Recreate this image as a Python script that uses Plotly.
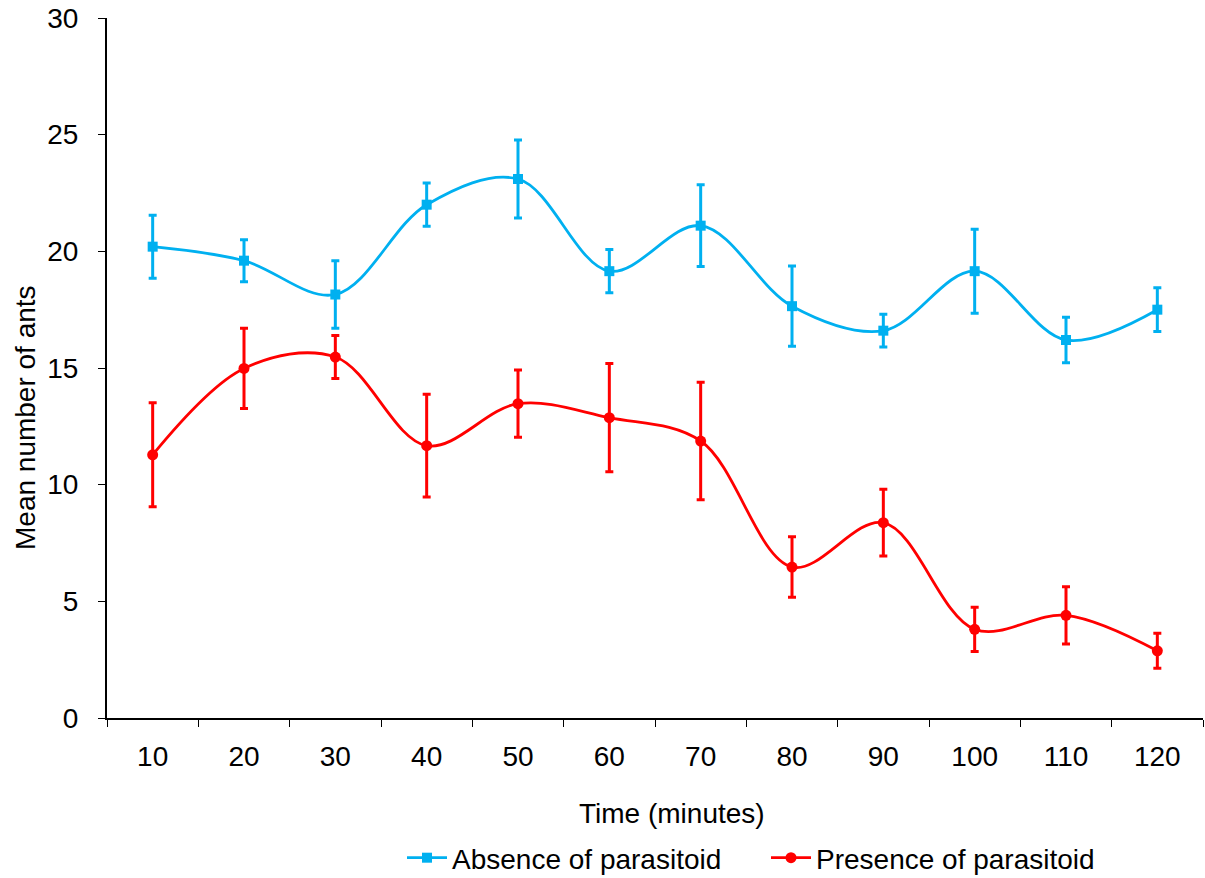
import plotly.graph_objects as go

time_labels = ["10", "20", "30", "40", "50", "60", "70", "80", "90", "100", "110", "120"]

absence_mean = [20.2, 19.6, 18.15, 22.0, 23.1, 19.15, 21.1, 17.65, 16.6, 19.15, 16.2, 17.5]
absence_err = [1.35, 0.9, 1.45, 0.93, 1.67, 0.93, 1.75, 1.72, 0.7, 1.8, 0.98, 0.94]

presence_mean = [11.28, 14.98, 15.47, 11.67, 13.47, 12.87, 11.87, 6.47, 8.37, 3.8, 4.4, 2.88]
presence_err = [2.23, 1.72, 0.92, 2.2, 1.44, 2.32, 2.52, 1.3, 1.43, 0.95, 1.23, 0.75]

BLUE = "#00B0F0"
RED = "#FF0000"
FONT = "Liberation Sans, Arial, sans-serif"
FS = 28

fig = go.Figure()
fig.add_trace(go.Scatter(
    x=time_labels, y=absence_mean, name="Absence of parasitoid",
    mode="lines+markers",
    line=dict(color=BLUE, width=2.8, shape="spline", smoothing=1.0),
    marker=dict(symbol="square", size=10, color=BLUE),
    error_y=dict(type="data", array=absence_err, visible=True, color=BLUE, thickness=3, width=4),
))
fig.add_trace(go.Scatter(
    x=time_labels, y=presence_mean, name="Presence of parasitoid",
    mode="lines+markers",
    line=dict(color=RED, width=2.8, shape="spline", smoothing=1.0),
    marker=dict(symbol="circle", size=11, color=RED),
    error_y=dict(type="data", array=presence_err, visible=True, color=RED, thickness=3, width=4),
))

fig.update_layout(
    width=1205, height=878,
    margin=dict(l=107, r=2, t=18, b=160, autoexpand=False),
    plot_bgcolor="white", paper_bgcolor="white",
    font=dict(family=FONT, size=FS, color="black"),
    showlegend=True,
    legend=dict(orientation="h", xref="container", yref="container",
                x=766 / 1205, xanchor="center", y=(878 - 858) / 878, yanchor="middle",
                font=dict(size=FS), itemwidth=40, entrywidth=309, tracegroupgap=0,
                bgcolor="rgba(0,0,0,0)"),
    xaxis=dict(
        type="category", tickson="boundaries", ticks="outside", ticklen=7, tickwidth=1, tickcolor="black",
        showline=True, linecolor="black", linewidth=2, showgrid=False, zeroline=False,
        tickfont=dict(size=FS), ticklabelstandoff=12, range=[-0.5, 11.5], automargin=False,
    ),
    yaxis=dict(
        range=[0, 30], tickvals=[0, 5, 10, 15, 20, 25, 30], ticks="outside", ticklen=7, tickwidth=1,
        tickcolor="black", showline=True, linecolor="black", linewidth=2, showgrid=False,
        zeroline=False, tickfont=dict(size=FS), ticklabelstandoff=14, automargin=False,
    ),
    annotations=[
        dict(text="Time (minutes)", xref="paper", yref="paper", x=(672 - 107) / 1096, y=(718 - 813) / 700,
             xanchor="center", yanchor="middle", showarrow=False, font=dict(size=FS)),
        dict(text="Mean number of ants", xref="paper", yref="paper", x=(25 - 107) / 1096, y=(718 - 418) / 700,
             xanchor="center", yanchor="middle", showarrow=False, textangle=-90, font=dict(size=FS)),
    ],
)

fig.write_html("out.html", config={"displayModeBar": False},
               post_script="document.body.style.margin='0';document.body.style.overflow='hidden';")
